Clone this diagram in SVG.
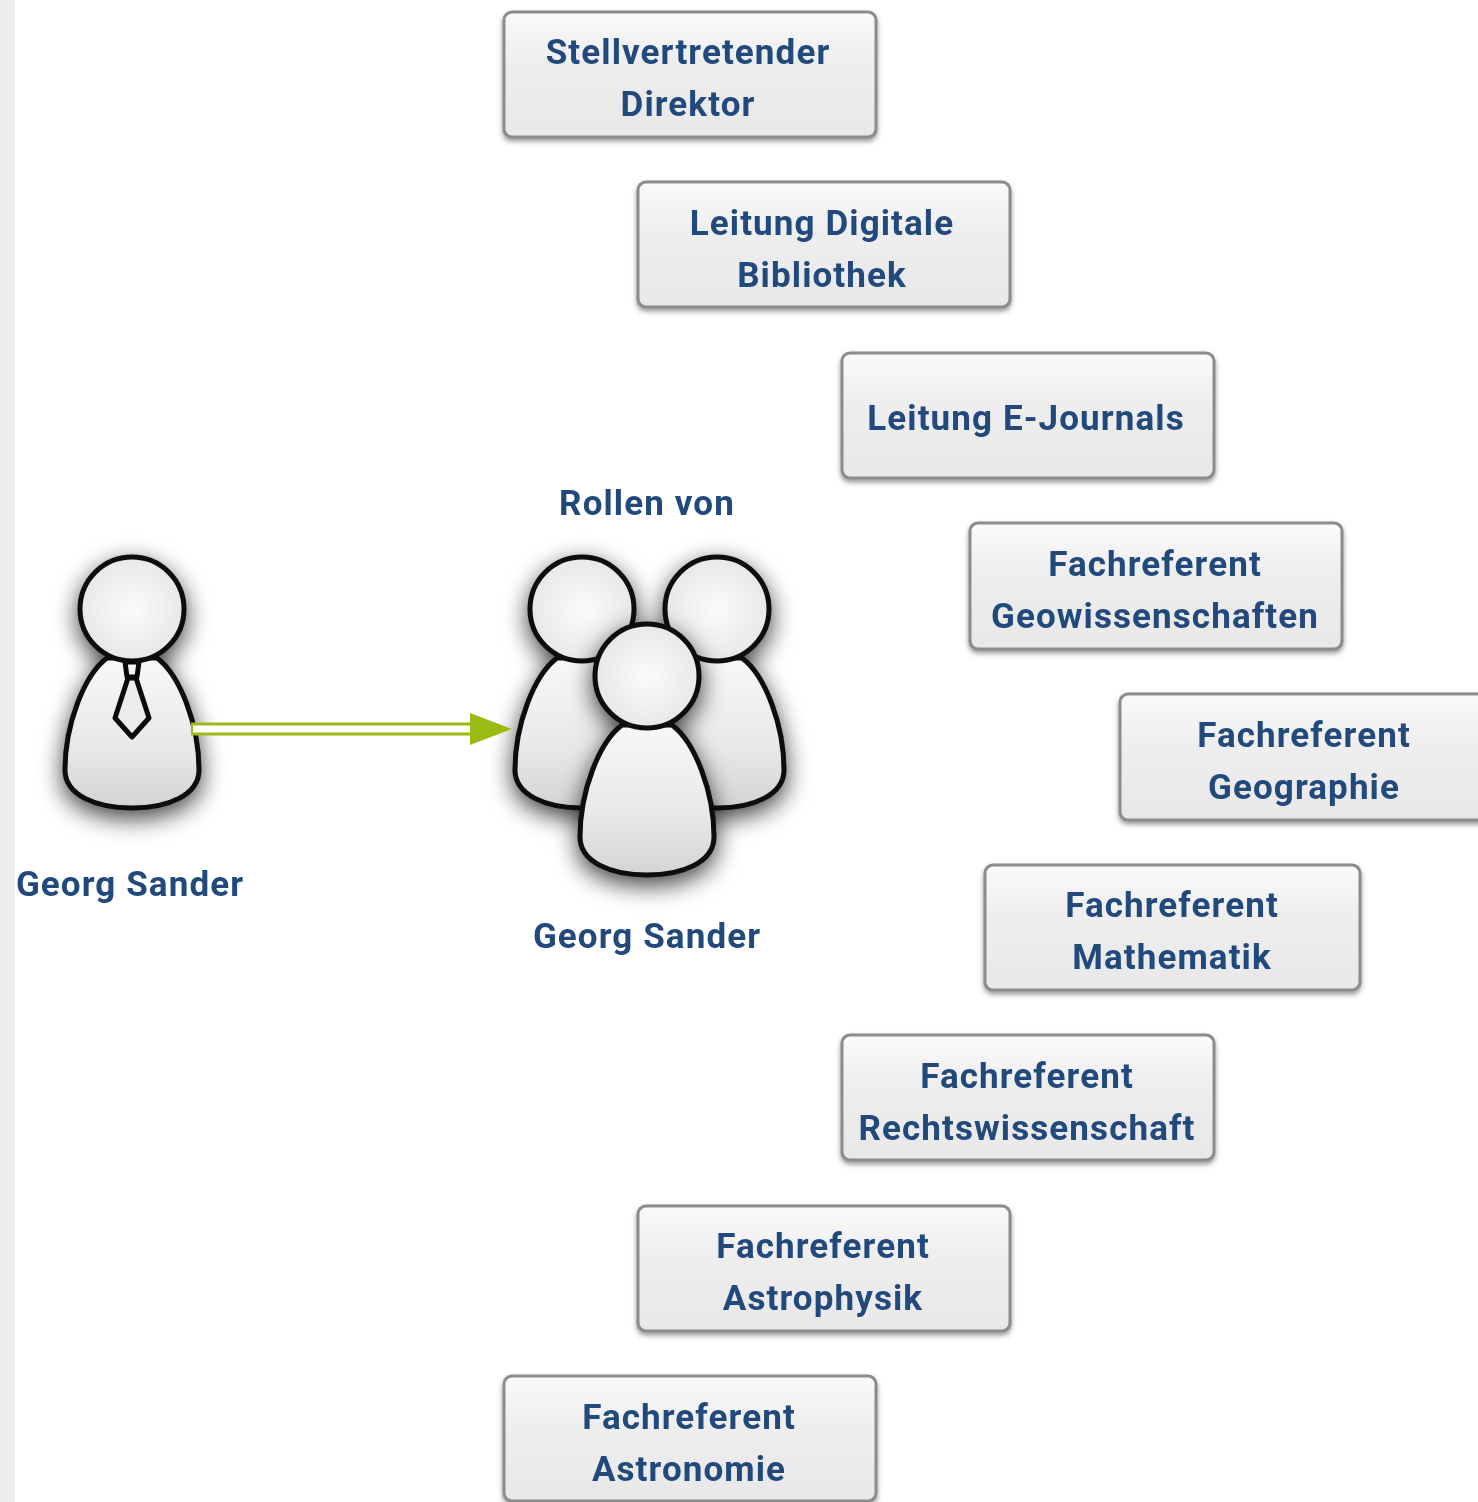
<svg xmlns="http://www.w3.org/2000/svg" width="1478" height="1502" viewBox="0 0 1478 1502">
<style>
.box{fill:url(#boxFill);stroke:#8c8c8c;stroke-width:3;filter:url(#boxShadow)}
.t{font-family:"Roboto","Liberation Sans",sans-serif;font-weight:700;font-size:35px;letter-spacing:1.1px;fill:#22497c;text-anchor:middle;filter:url(#soft)}
.fig{stroke:#0a0a0a;stroke-width:5;stroke-linejoin:round}
.head{fill:url(#headFill)}
.body{fill:url(#bodyFill)}
</style>
<defs>
<linearGradient id="boxFill" x1="0" y1="0" x2="0" y2="1"><stop offset="0" stop-color="#fafafa"/><stop offset="0.4" stop-color="#eeeeee"/><stop offset="1" stop-color="#e8e8e8"/></linearGradient>
<radialGradient id="headFill" cx="0.5" cy="0.5" r="0.55"><stop offset="0" stop-color="#fbfbfb"/><stop offset="1" stop-color="#e6e6e6"/></radialGradient>
<linearGradient id="bodyFill" x1="0" y1="0" x2="0" y2="1"><stop offset="0" stop-color="#f8f8f8"/><stop offset="0.6" stop-color="#e8e8e8"/><stop offset="1" stop-color="#d4d4d4"/></linearGradient>
<filter id="boxShadow" x="-5%" y="-10%" width="110%" height="125%"><feDropShadow dx="0" dy="3" stdDeviation="2.5" flood-color="#555" flood-opacity="0.6"/><feGaussianBlur stdDeviation="0.6"/></filter>
<filter id="figShadow" x="-30%" y="-20%" width="160%" height="150%"><feDropShadow dx="0" dy="8" stdDeviation="12" flood-color="#000" flood-opacity="0.75"/><feGaussianBlur stdDeviation="0.7"/></filter>
<filter id="soft" x="-5%" y="-10%" width="110%" height="120%"><feGaussianBlur stdDeviation="0.75"/></filter>
<g id="person">
<path class="fig body" d="M-25,49 C-48,66 -67,116 -67,161 C-67,186 -36,199 0,199 C36,199 67,186 67,161 C67,116 48,66 25,49 Z"/>
<circle class="fig head" cx="0" cy="0" r="52"/>
</g>
<marker id="greenHead" markerUnits="userSpaceOnUse" markerWidth="44" markerHeight="34" refX="2" refY="16" orient="auto"><path d="M0,0 L42,16 L0,32 Z" fill="#9cba14"/></marker>
</defs>
<rect id="sidebar" x="0" y="0" width="15" height="1502" fill="#ececec"/>
<g id="person-single">
<use href="#person" x="132" y="609" filter="url(#figShadow)"/>
<path class="fig" d="M125,662 H139 L137,677 H127 Z" fill="#f2f2f2" stroke-width="4"/>
<path class="fig" d="M128,678 H136 L149,718 L132,737 L115,718 Z" fill="#ececec" stroke-width="4"/>
<text class="t" x="130" y="896">Georg Sander</text>
</g>
<g id="person-group">
<use href="#person" x="582" y="609" filter="url(#figShadow)"/>
<use href="#person" x="717" y="609" filter="url(#figShadow)"/>
<use href="#person" x="647" y="676" filter="url(#figShadow)"/>
<text class="t" x="647" y="515">Rollen von</text>
<text class="t" x="647" y="948">Georg Sander</text>
</g>
<g id="connectors">
<path d="M191,729 H472" fill="none" stroke="#9cba14" stroke-width="13" marker-end="url(#greenHead)"/>
<path d="M193,729 H470" fill="none" stroke="#ffffff" stroke-width="7"/>
</g>
<g id="role-1"><rect class="box" x="504" y="12" width="372" height="125" rx="8"/><text class="t" x="688" y="64">Stellvertretender</text><text class="t" x="688" y="116">Direktor</text></g>
<g id="role-2"><rect class="box" x="638" y="182" width="372" height="125" rx="8"/><text class="t" x="822" y="235">Leitung Digitale</text><text class="t" x="822" y="287">Bibliothek</text></g>
<g id="role-3"><rect class="box" x="842" y="353" width="372" height="125" rx="8"/><text class="t" x="1026" y="430">Leitung E-Journals</text></g>
<g id="role-4"><rect class="box" x="970" y="523" width="372" height="126" rx="8"/><text class="t" x="1155" y="576">Fachreferent</text><text class="t" x="1155" y="628">Geowissenschaften</text></g>
<g id="role-5"><rect class="box" x="1120" y="694" width="372" height="126" rx="8"/><text class="t" x="1304" y="747">Fachreferent</text><text class="t" x="1304" y="799">Geographie</text></g>
<g id="role-6"><rect class="box" x="985" y="865" width="375" height="125" rx="8"/><text class="t" x="1172" y="917">Fachreferent</text><text class="t" x="1172" y="969">Mathematik</text></g>
<g id="role-7"><rect class="box" x="842" y="1035" width="372" height="125" rx="8"/><text class="t" x="1027" y="1088">Fachreferent</text><text class="t" x="1027" y="1140">Rechtswissenschaft</text></g>
<g id="role-8"><rect class="box" x="638" y="1206" width="372" height="125" rx="8"/><text class="t" x="823" y="1258">Fachreferent</text><text class="t" x="823" y="1310">Astrophysik</text></g>
<g id="role-9"><rect class="box" x="504" y="1376" width="372" height="125" rx="8"/><text class="t" x="689" y="1429">Fachreferent</text><text class="t" x="689" y="1481">Astronomie</text></g>
</svg>
